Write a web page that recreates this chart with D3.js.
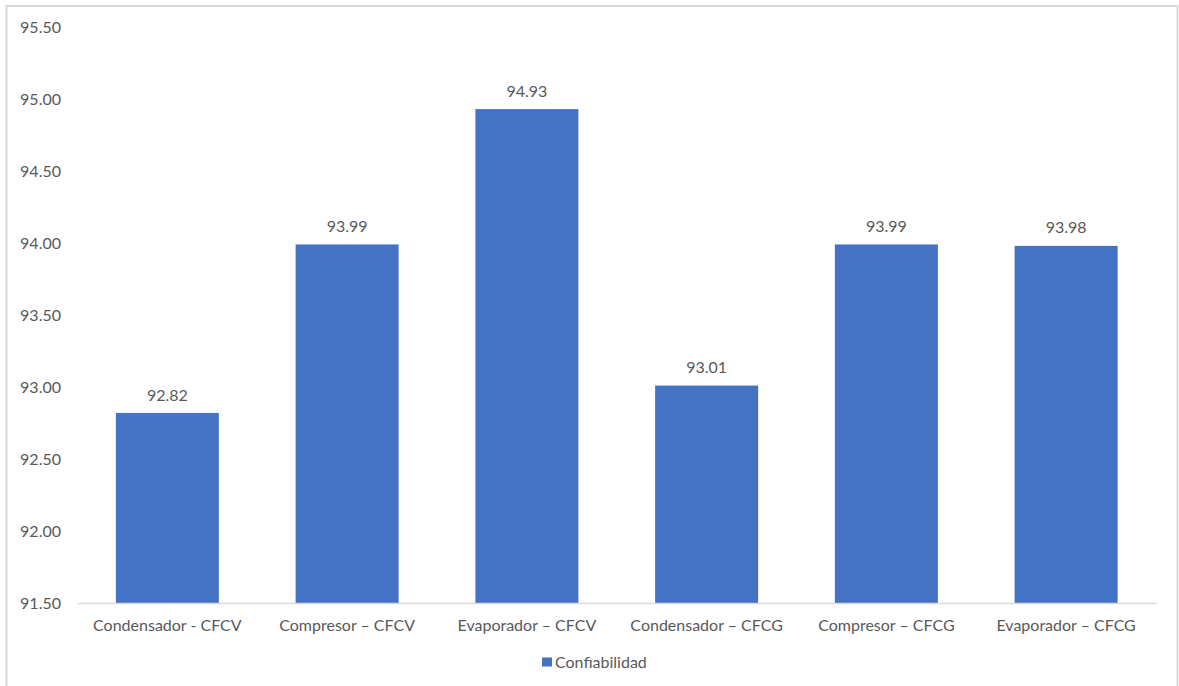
<!DOCTYPE html>
<html>
<head>
<meta charset="utf-8">
<script src="https://cdn.jsdelivr.net/npm/d3@7"></script>
<style>
  html, body { margin: 0; padding: 0; background: #fff; }
  svg { display: block; }
  text { font-family: Lato, "Open Sans", sans-serif; fill: #595959; }
</style>
</head>
<body>
<svg id="chart" width="1179" height="686"></svg>
<script>
const categories = [
  "Condensador - CFCV",
  "Compresor \u2013 CFCV",
  "Evaporador \u2013 CFCV",
  "Condensador \u2013 CFCG",
  "Compresor \u2013 CFCG",
  "Evaporador \u2013 CFCG"
];
const confiabilidad = [92.82, 93.99, 94.93, 93.01, 93.99, 93.98];
const yTicks = [91.5, 92.0, 92.5, 93.0, 93.5, 94.0, 94.5, 95.0, 95.5];
const seriesName = "Confiabilidad";

const W = 1179, H = 686;
const svg = d3.select("#chart");
const FS = "16px";

// chart border
svg.append("rect")
  .attr("x", 6.5).attr("y", 6).attr("width", 1171).attr("height", 690)
  .attr("fill", "#fff").attr("stroke", "#d9d9d9").attr("stroke-width", 2);

const plot = { left: 77.5, right: 1156, top: 27, bottom: 603 };

const x = d3.scaleBand()
  .domain(categories)
  .range([plot.left, plot.right])
  .paddingInner(0.427)
  .paddingOuter(0.2135);

const y = d3.scaleLinear()
  .domain([91.5, 95.5])
  .range([plot.bottom, plot.top]);

// Y axis labels
const yAxis = d3.axisLeft(y).tickValues(yTicks).tickFormat(d3.format(".2f")).tickSize(0).tickPadding(0);
const gy = svg.append("g").attr("transform", `translate(61,0)`).call(yAxis);
gy.select(".domain").remove();
gy.selectAll("text")
  .style("font-size", FS)
  .style("font-family", "Lato, sans-serif")
  .attr("fill", "#595959")
  .attr("dy", "0.35em");

// bars
svg.append("g").selectAll("rect")
  .data(confiabilidad)
  .join("rect")
  .attr("x", (d, i) => x(categories[i]))
  .attr("y", d => y(d))
  .attr("width", x.bandwidth())
  .attr("height", d => y(91.5) - y(d))
  .attr("fill", "#4472C4");

// data labels
svg.append("g").selectAll("text")
  .data(confiabilidad)
  .join("text")
  .attr("x", (d, i) => x(categories[i]) + x.bandwidth() / 2)
  .attr("y", d => y(d) - 18)
  .attr("dy", "0.35em")
  .attr("text-anchor", "middle")
  .style("font-size", FS)
  .text(d => d3.format(".2f")(d));

// X axis
const xAxis = d3.axisBottom(x).tickSize(0).tickPadding(0);
const gx = svg.append("g").attr("transform", `translate(0,${plot.bottom})`).call(xAxis);
gx.select(".domain").attr("stroke", "#d9d9d9").attr("stroke-width", 1.5);
gx.selectAll("text")
  .attr("y", 22)
  .attr("dy", "0.35em")
  .style("font-size", FS)
  .style("font-family", "Lato, sans-serif")
  .attr("fill", "#595959");

// legend
const lg = svg.append("g");
lg.append("rect")
  .attr("x", 542).attr("y", 657.5).attr("width", 10).attr("height", 9)
  .attr("fill", "#4472C4");
lg.append("text")
  .attr("x", 555).attr("y", 662).attr("dy", "0.35em")
  .style("font-size", FS)
  .text(seriesName);
</script>
</body>
</html>
